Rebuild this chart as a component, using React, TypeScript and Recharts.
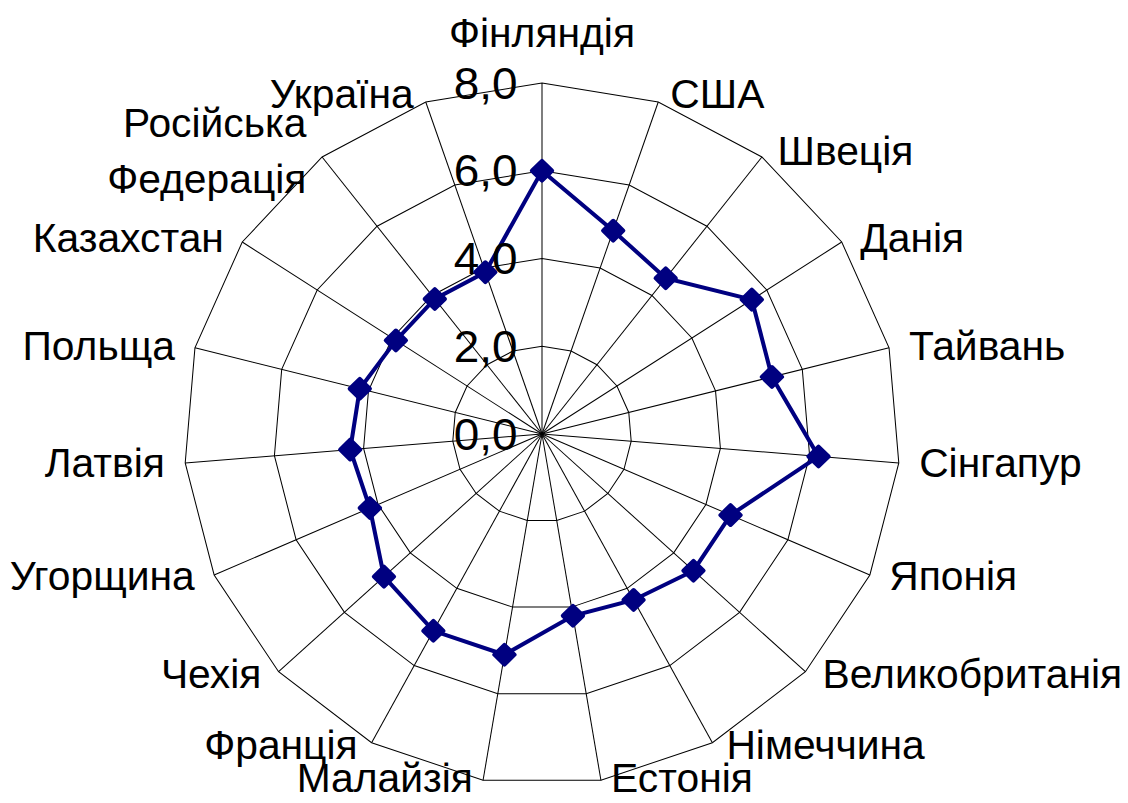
import { PolarAngleAxis, PolarGrid, PolarRadiusAxis, Radar, RadarChart } from "recharts"

const countries = [
  "Фінляндія",
  "США",
  "Швеція",
  "Данія",
  "Тайвань",
  "Сінгапур",
  "Японія",
  "Великобританія",
  "Німеччина",
  "Естонія",
  "Малайзія",
  "Франція",
  "Чехія",
  "Угорщина",
  "Латвія",
  "Польща",
  "Казахстан",
  "Російська Федерація",
  "Україна",
]

const values = [6.0, 4.9, 4.5, 5.6, 5.3, 6.2, 4.6, 4.6, 4.3, 4.2, 5.1, 5.1, 4.8, 4.2, 4.3, 4.2, 3.9, 3.9, 3.9]

const radiusDomain = [0, 8]

const data = countries.map((name, i) => ({ name, value: values[i] }))

const CX = 542
const CY = 434
const R = 351
const H = 803
const FONT = "'Liberation Sans', Arial, sans-serif"

function AngleTick(props: any) {
  const { payload, index } = props
  const a = (index * 2 * Math.PI) / countries.length
  const s = Math.sin(a)
  const c = Math.cos(a)
  const vx = CX + R * s
  const vy = CY - R * c
  const lines = String(payload.value).split(" ")
  let x = vx
  let y = c < 0 ? vy - 3 * c : vy - 8 * c
  // keep the bottom labels inside the picture
  y = Math.min(y, H - 25)
  let anchor = "middle"
  if (Math.abs(s) < 0.05) {
    y = vy - 50
  } else {
    const gap = 8 + 12 * Math.abs(s)
    x = s > 0 ? vx + gap : vx - gap
    anchor = s > 0 ? "start" : "end"
  }
  const lh = 56
  const top = y - ((lines.length - 1) * lh) / 2
  return (
    <text textAnchor={anchor} fontFamily={FONT} fontSize={40} fill="#000">
      {lines.map((l, i) => (
        <tspan key={i} x={x} y={top + i * lh} dy="0.35em">
          {l}
        </tspan>
      ))}
    </text>
  )
}

function RadiusTick(props: any) {
  const { x, y, payload } = props
  return (
    <text x={x - 24} y={y} dy="0.35em" textAnchor="end" fontFamily={FONT} fontSize={45} fill="#000">
      {payload.value.toFixed(1).replace(".", ",")}
    </text>
  )
}

function Diamond(props: any) {
  const { cx, cy } = props
  return (
    <rect
      x={cx - 9}
      y={cy - 9}
      width={18}
      height={18}
      rx={2}
      fill="#000080"
      transform={`rotate(45 ${cx} ${cy})`}
    />
  )
}

export default function App() {
  return (
    <div
      style={{
        position: "absolute",
        left: 0,
        top: 0,
        width: 1128,
        height: H,
        background: "#fff",
        transform: "scaleX(1.02)",
        transformOrigin: `${CX}px ${CY}px`,
      }}
    >
      <RadarChart
        width={1128}
        height={H}
        data={data}
        cx={CX}
        cy={CY}
        outerRadius={R}
        startAngle={90}
        endAngle={-270}
        margin={{ top: 0, right: 0, bottom: 0, left: 0 }}
      >
        <PolarGrid gridType="polygon" stroke="#000" strokeWidth={1} />
        <PolarAngleAxis dataKey="name" tick={<AngleTick />} tickLine={false} axisLine={false} />
        <PolarRadiusAxis
          angle={90}
          domain={radiusDomain}
          tickCount={5}
          axisLine={false}
          tickLine={false}
          tick={<RadiusTick />}
        />
        <Radar
          dataKey="value"
          stroke="#000080"
          strokeWidth={4}
          fill="none"
          fillOpacity={0}
          dot={<Diamond />}
          isAnimationActive={false}
        />
      </RadarChart>
    </div>
  )
}
